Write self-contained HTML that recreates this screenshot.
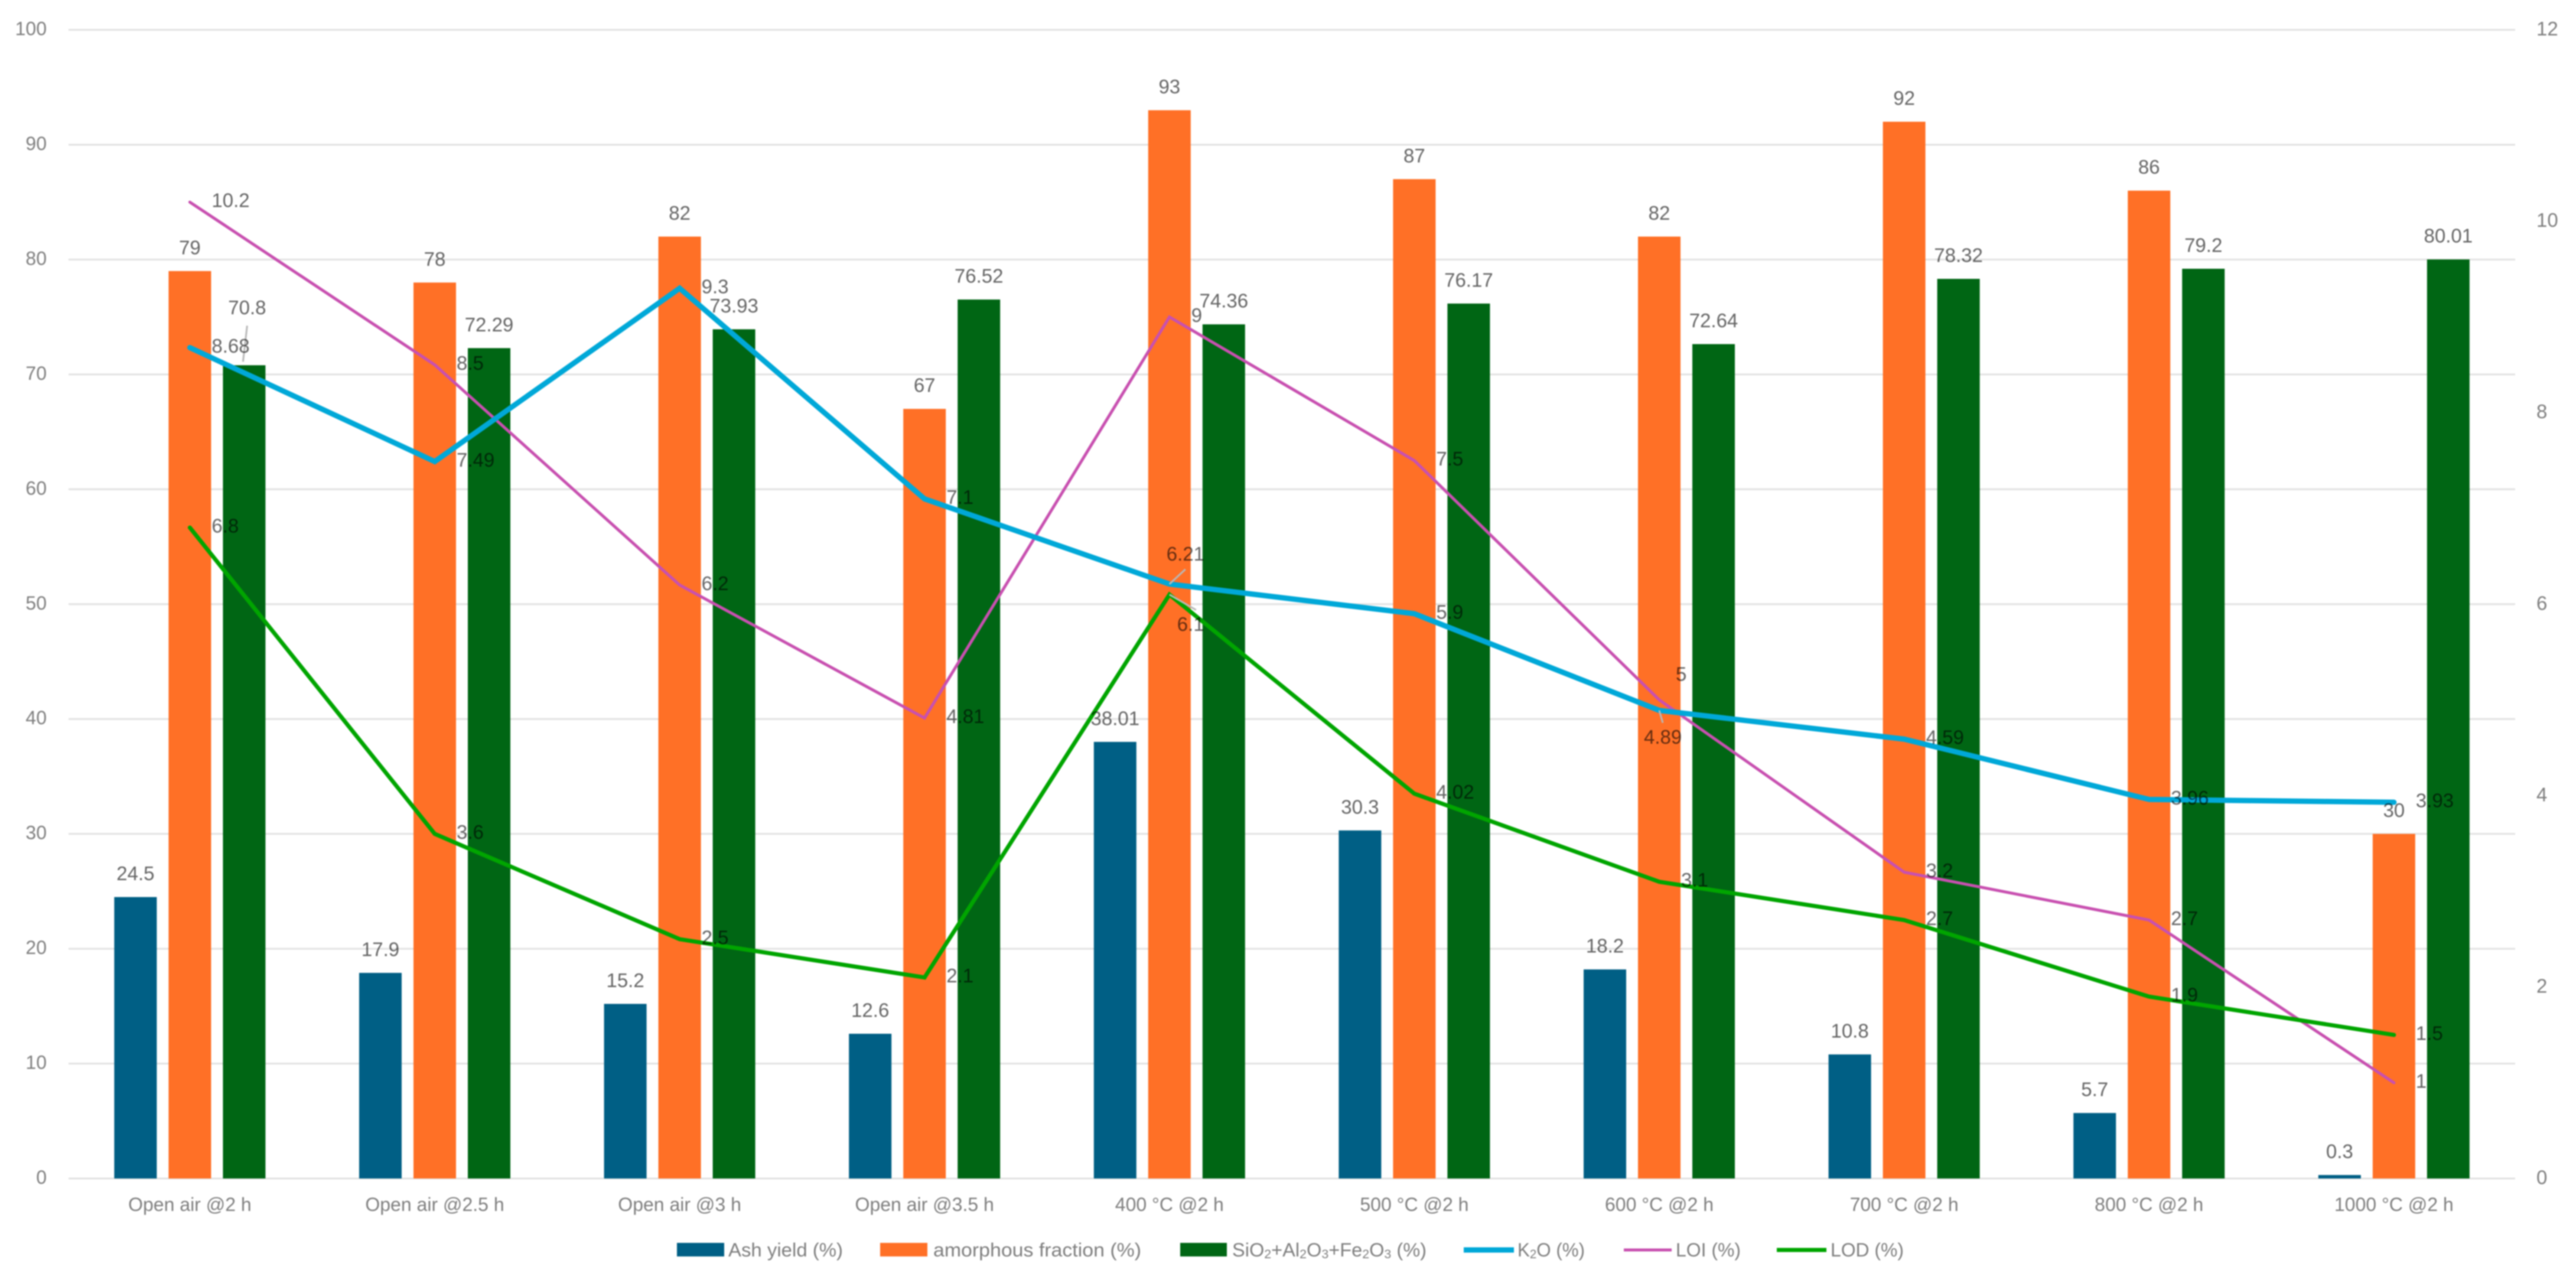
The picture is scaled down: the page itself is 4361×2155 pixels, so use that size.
<!DOCTYPE html>
<html lang="en">
<head>
<meta charset="utf-8">
<title>Ash yield and composition chart</title>
<style>
html,body{margin:0;padding:0;background:#fff;width:4361px;height:2155px;overflow:hidden}
svg{display:block;filter:blur(1px)}
text{font-family:"Liberation Sans",sans-serif}
#labels{mix-blend-mode:multiply}
</style>
</head>
<body>
<svg id="chart" xmlns="http://www.w3.org/2000/svg" width="4361" height="2155" viewBox="0 0 4361 2155">
<rect x="0" y="0" width="4361" height="2155" fill="#ffffff"/>
<g id="grid"></g>
<g id="leftAxis"></g>
<g id="rightAxis"></g>
<g id="catAxis"></g>
<g id="bars"></g>
<g id="lines"></g>
<g id="leaders"></g>
<g id="labels"></g>
<g>
  <g>
    <rect x="1146" y="2104" width="80" height="23" fill="#005f85"/>
    <text x="1233" y="2116" font-size="32" fill="#7f7f7f" dominant-baseline="central" textLength="194" lengthAdjust="spacingAndGlyphs">Ash yield (%)</text>
  </g>
  <g>
    <rect x="1490" y="2104" width="80" height="23" fill="#ff7026"/>
    <text x="1580" y="2116" font-size="32" fill="#7f7f7f" dominant-baseline="central" textLength="352" lengthAdjust="spacingAndGlyphs">amorphous fraction (%)</text>
  </g>
  <g>
    <rect x="1998" y="2104" width="79" height="23" fill="#006614"/>
    <text x="2086" y="2116" font-size="32" fill="#7f7f7f" dominant-baseline="central" textLength="329" lengthAdjust="spacingAndGlyphs">SiO<tspan font-size="21" dy="7">2</tspan><tspan dy="-7">+Al</tspan><tspan font-size="21" dy="7">2</tspan><tspan dy="-7">O</tspan><tspan font-size="21" dy="7">3</tspan><tspan dy="-7">+Fe</tspan><tspan font-size="21" dy="7">2</tspan><tspan dy="-7">O</tspan><tspan font-size="21" dy="7">3</tspan><tspan dy="-7"> (%)</tspan></text>
  </g>
  <g>
    <line x1="2478" y1="2116" x2="2563" y2="2116" stroke="#00a8d8" stroke-width="9"/>
    <text x="2569" y="2116" font-size="32" fill="#7f7f7f" dominant-baseline="central" textLength="114" lengthAdjust="spacingAndGlyphs">K<tspan font-size="21" dy="7">2</tspan><tspan dy="-7">O (%)</tspan></text>
  </g>
  <g>
    <line x1="2749" y1="2116" x2="2830" y2="2116" stroke="#c850b0" stroke-width="5"/>
    <text x="2837" y="2116" font-size="32" fill="#7f7f7f" dominant-baseline="central" textLength="110" lengthAdjust="spacingAndGlyphs">LOI (%)</text>
  </g>
  <g>
    <line x1="3008" y1="2116" x2="3092" y2="2116" stroke="#00a500" stroke-width="7"/>
    <text x="3099" y="2116" font-size="32" fill="#7f7f7f" dominant-baseline="central" textLength="124" lengthAdjust="spacingAndGlyphs">LOD (%)</text>
  </g>
</g>
</svg>
<script>
const categories = ["Open air @2 h","Open air @2.5 h","Open air @3 h","Open air @3.5 h","400 °C @2 h","500 °C @2 h","600 °C @2 h","700 °C @2 h","800 °C @2 h","1000 °C @2 h"];
const ashYield = [24.5,17.9,15.2,12.6,38.01,30.3,18.2,10.8,5.7,0.3];
const amorphousFraction = [79,78,82,67,93,87,82,92,86,30];
const oxides = [70.8,72.29,73.93,76.52,74.36,76.17,72.64,78.32,79.2,80.01];
const k2o = [8.68,7.49,9.3,7.1,6.21,5.9,4.89,4.59,3.96,3.93];
const loi = [10.2,8.5,6.2,4.81,9,7.5,5,3.2,2.7,1];
const lod = [6.8,3.6,2.5,2.1,6.1,4.02,3.1,2.7,1.9,1.5];
const leftTicks = [0,10,20,30,40,50,60,70,80,90,100];
const rightTicks = [0,2,4,6,8,10,12];

const NS = "http://www.w3.org/2000/svg";
const Y0 = 1995, Y100 = 50.5, X_LEFT = 116, X_RIGHT = 4258;
const CAT_FIRST = 321.4, CAT_STEP = 414.6, BAR_W = 72, BAR_OFFSET = 92;
const TEXT_GREY = "#7f7f7f", LABEL_GREY = "#666666";

function xCat(i){ return CAT_FIRST + CAT_STEP * i; }
function yLeft(v){ return Y0 + (Y100 - Y0) * v / 100; }
function yRight(v){ return Y0 + (Y100 - Y0) * v / 12; }

function make(tag, attrs, parent, content){
  const el = document.createElementNS(NS, tag);
  for (const k in attrs) el.setAttribute(k, attrs[k]);
  if (content !== undefined) el.textContent = content;
  parent.appendChild(el);
  return el;
}

const gridG = document.getElementById("grid");
const leftG = document.getElementById("leftAxis");
const rightG = document.getElementById("rightAxis");
const catG = document.getElementById("catAxis");
const barsG = document.getElementById("bars");
const linesG = document.getElementById("lines");
const leadersG = document.getElementById("leaders");
const labelsG = document.getElementById("labels");

leftTicks.forEach(function(t){
  const line = make("line", {x1:X_LEFT, x2:X_RIGHT, y1:yLeft(t), y2:yLeft(t), stroke:"#e2e2e2", "stroke-width":3}, gridG);
  
  
  const label = make("text", {x:79, y:yLeft(t) - 2, "font-size":32, fill:TEXT_GREY, "text-anchor":"end", "dominant-baseline":"central"}, leftG, String(t));
  
  
});

rightTicks.forEach(function(t){
  const label = make("text", {x:4294, y:yRight(t) - 2, "font-size":33, fill:TEXT_GREY, "dominant-baseline":"central"}, rightG, String(t));
  
  
});

categories.forEach(function(c, i){
  const label = make("text", {x:xCat(i), y:2039, "font-size":32, fill:TEXT_GREY, "text-anchor":"middle", "dominant-baseline":"central"}, catG, c);
  
  
});

function drawBars(values, offset, color, key){
  values.forEach(function(v, i){
    const top = yLeft(v);
    const bar = make("rect", {x:xCat(i) + offset - BAR_W / 2, y:top, width:BAR_W, height:Y0 - top, fill:color}, barsG);
    
    
  });
}

function drawLine(values, color, width, key){
  const pts = values.map(function(v, i){ return xCat(i) + "," + yRight(v); }).join(" ");
  const line = make("polyline", {points:pts, fill:"none", stroke:color, "stroke-width":width, "stroke-linejoin":"miter", "stroke-linecap":"round"}, linesG);
  
  
}

function addLabel(x, y, text, anchor, key){
  const label = make("text", {x:x, y:y, "font-size":33, fill:LABEL_GREY, "text-anchor":anchor, "dominant-baseline":"central"}, labelsG, text);
  
  
}

function addLeader(x1, y1, x2, y2, key){
  const leader = make("line", {x1:x1, y1:y1, x2:x2, y2:y2, stroke:"#b8b8b8", "stroke-width":3}, leadersG);
  
  
}

function barLabels(values, offset, key){
  values.forEach(function(v, i){
    const cx = xCat(i) + offset;
    const top = yLeft(v);
    if (key === "oxides" && i === 0) {
      addLabel(cx + 5, top - 98, String(v), "middle", key + "-" + (i + 1));
      addLeader(cx + 5, top - 67, cx - 2, top - 6, key + "-" + (i + 1));
    } else {
      addLabel(cx, top - 40, String(v), "middle", key + "-" + (i + 1));
    }
  });
}

/* Label placements that differ from the default right-of-point position: index -> [dx, dy, hasLeader] */
const k2oNudges = {4:[-5,-51,true], 6:[-26,45,true]};
const loiNudges = {6:[28,-44,false]};
const lodNudges = {4:[13,50,true]};

function lineLabels(values, key, nudges){
  values.forEach(function(v, i){
    const px = xCat(i), py = yRight(v);
    const n = nudges[i];
    if (n) {
      addLabel(px + n[0], py + n[1], String(v), "start", key + "-" + (i + 1));
      if (n[2]) {
        const lx = px + n[0] + 32;
        const ly = py + n[1] + (n[1] < 0 ? 26 : -24);
        addLeader(px, py, lx, ly, key + "-" + (i + 1));
      }
    } else {
      addLabel(px + 37, py - 3, String(v), "start", key + "-" + (i + 1));
    }
  });
}

drawBars(ashYield, -BAR_OFFSET, "#005f85", "ash-yield");
drawBars(amorphousFraction, 0, "#ff7026", "amorphous-fraction");
drawBars(oxides, BAR_OFFSET, "#006614", "oxides");
drawLine(loi, "#c850b0", 5, "loi");
drawLine(lod, "#00a500", 7, "lod");
drawLine(k2o, "#00a8d8", 9, "k2o");
barLabels(ashYield, -BAR_OFFSET, "ash-yield");
barLabels(amorphousFraction, 0, "amorphous-fraction");
barLabels(oxides, BAR_OFFSET, "oxides");
lineLabels(k2o, "k2o", k2oNudges);
lineLabels(loi, "loi", loiNudges);
lineLabels(lod, "lod", lodNudges);
</script>
</body>
</html>
